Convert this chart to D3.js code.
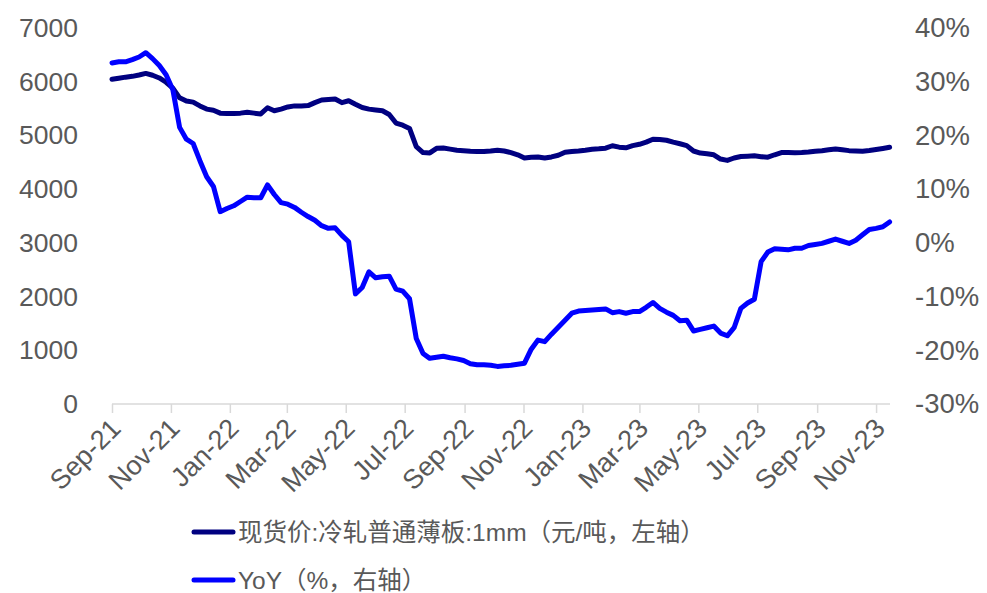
<!DOCTYPE html>
<html>
<head>
<meta charset="utf-8">
<script src="https://cdn.jsdelivr.net/npm/d3@7"></script>
<style>
  html, body { margin: 0; padding: 0; background: #fff; }
  svg text { font-family: "Liberation Sans", Arial, "Noto Sans CJK SC", sans-serif; fill: #595959; }
</style>
</head>
<body>
<svg id="chart" width="987" height="593"></svg>
<script>
// ---- data (weekly, starting 2021-09-01) ----
const startDate = "2021-09-01";
const priceValues = [
  6045, 6065, 6085, 6100, 6125, 6155, 6120, 6070, 5990, 5880,
  5700, 5640, 5620, 5550, 5490, 5470, 5415, 5410, 5410, 5415,
  5430, 5415, 5400, 5515, 5460, 5490, 5530, 5550, 5548, 5555,
  5610, 5660, 5670, 5679, 5610, 5645, 5580, 5520, 5490, 5475,
  5460, 5390, 5230, 5190, 5130, 4790, 4680, 4675, 4760, 4765,
  4745, 4725, 4715, 4705, 4700, 4700, 4710, 4725, 4710, 4680,
  4640, 4580, 4595, 4600, 4580, 4600, 4630, 4686, 4700, 4711,
  4725, 4742, 4750, 4762, 4808, 4782, 4770, 4810, 4835, 4875,
  4930, 4925, 4910, 4875, 4845, 4810, 4710, 4672, 4660, 4640,
  4560, 4535, 4580, 4607, 4613, 4620, 4605, 4595, 4640, 4680,
  4680, 4679, 4683, 4690, 4705, 4715, 4732, 4748, 4732, 4717,
  4712, 4706, 4720, 4738, 4758, 4780
];
const yoyValues = [
  33.5, 33.7, 33.7, 34.1, 34.6, 35.4, 34.3, 33.0, 31.3, 28.5,
  21.5, 19.3, 18.5, 15.3, 12.3, 10.5, 5.8, 6.4, 6.9, 7.7,
  8.5, 8.4, 8.4, 10.8, 9.0, 7.5, 7.2, 6.6, 5.7, 4.9,
  4.2, 3.2, 2.7, 2.8, 1.4, 0.2, -9.5, -8.3, -5.4, -6.5,
  -6.3, -6.2, -8.6, -9.0, -10.4, -17.8, -20.6, -21.5, -21.3, -21.1,
  -21.4, -21.6, -21.9, -22.5, -22.7, -22.7, -22.8, -23.0, -22.9, -22.8,
  -22.6, -22.4, -19.8, -18.1, -18.4, -17.0, -15.7, -14.4, -13.1, -12.7,
  -12.6, -12.5, -12.4, -12.3, -13.0, -12.8, -13.1, -12.8, -12.8, -12.0,
  -11.1, -12.2, -12.9, -13.5, -14.5, -14.4, -16.4, -16.1, -15.8, -15.5,
  -16.8, -17.3, -15.8, -12.2, -11.2, -10.5, -3.5, -1.7, -1.1, -1.2,
  -1.3, -1.0, -1.0, -0.5, -0.3, -0.1, 0.3, 0.7, 0.3, -0.1,
  0.5, 1.5, 2.5, 2.7, 3.0, 3.9
];
const leftTicks = [0, 1000, 2000, 3000, 4000, 5000, 6000, 7000];
const rightTicks = [-30, -20, -10, 0, 10, 20, 30, 40];
const seriesNames = ["现货价:冷轧普通薄板:1mm（元/吨，左轴）", "YoY（%，右轴）"];
const seriesColors = ["#000080", "#0000FF"];

// ---- build ----
const parse = d3.timeParse("%Y-%m-%d");
const d0 = parse(startDate);
const dates = priceValues.map((_, i) => d3.timeDay.offset(d0, 7 * i));

const svg = d3.select("#chart");
const L = 112, R = 890, T = 28, B = 404;

const x = d3.scaleTime().domain([d0, d3.timeDay.offset(d0, 7 * (priceValues.length - 1))]).range([L, R - 0.4]);
const yL = d3.scaleLinear().domain([0, 7000]).range([B, T]);
const yR = d3.scaleLinear().domain([-30, 40]).range([B, T]);

// x axis
const xAxis = d3.axisBottom(x)
  .ticks(d3.timeMonth.every(2))
  .tickFormat(d3.timeFormat("%b-%y"))
  .tickSize(9)
  .tickSizeOuter(0);
const gx = svg.append("g").attr("transform", `translate(0,${B})`).call(xAxis);
gx.select(".domain").attr("stroke", "#d9d9d9").attr("stroke-width", 1.5).attr("d", `M${L},0H${R}`);
gx.selectAll(".tick line").attr("stroke", "#d9d9d9").attr("stroke-width", 1.5);
gx.selectAll(".tick text")
  .attr("font-size", 27)
  .attr("text-anchor", "end")
  .attr("dy", 0)
  .attr("transform", "translate(10,26) rotate(-45)")
  .attr("y", 0).attr("x", 0)
  .style("fill", "#595959");

// left axis
const gl = svg.append("g").attr("transform", `translate(${L},0)`)
  .call(d3.axisLeft(yL).tickValues(leftTicks).tickSize(0).tickPadding(34).tickFormat(d3.format("d")));
gl.select(".domain").remove();
gl.selectAll("text").attr("font-size", 26.5).style("fill", "#595959");

// right axis
const gr = svg.append("g").attr("transform", `translate(${R},0)`)
  .call(d3.axisRight(yR).tickValues(rightTicks).tickSize(0).tickPadding(25).tickFormat(d => d + "%"));
gr.select(".domain").remove();
gr.selectAll("text").attr("font-size", 27.5).style("fill", "#595959");

// lines
const linePrice = d3.line().x((d, i) => x(dates[i])).y(d => yL(d));
const lineYoy = d3.line().x((d, i) => x(dates[i])).y(d => yR(d));

svg.append("path").datum(priceValues)
  .attr("d", linePrice).attr("fill", "none")
  .attr("stroke", seriesColors[0]).attr("stroke-width", 5).attr("stroke-linejoin", "round").attr("stroke-linecap", "round");
svg.append("path").datum(yoyValues)
  .attr("d", lineYoy).attr("fill", "none")
  .attr("stroke", seriesColors[1]).attr("stroke-width", 5).attr("stroke-linejoin", "round").attr("stroke-linecap", "round");

// legend
const legY = [532, 580];
seriesNames.forEach((name, i) => {
  const g = svg.append("g").attr("transform", `translate(0,${legY[i]})`);
  g.append("line").attr("x1", 194).attr("x2", 233).attr("y1", 0).attr("y2", 0)
    .attr("stroke", seriesColors[i]).attr("stroke-width", 5).attr("stroke-linecap", "round");
  g.append("text").attr("x", 238).attr("y", 9).attr("font-size", 24.5).text(name);
});
</script>
</body>
</html>
